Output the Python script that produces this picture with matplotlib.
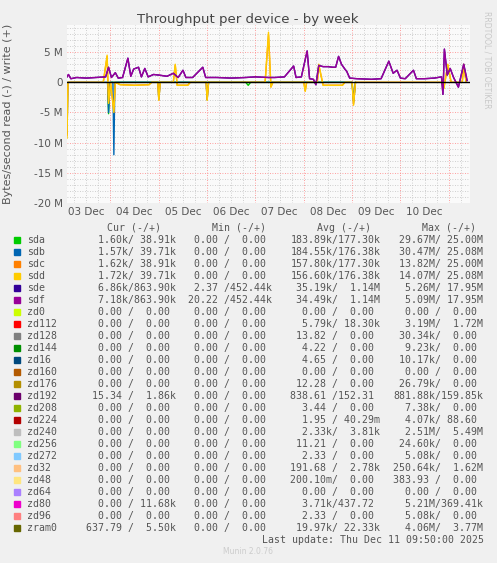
import matplotlib.pyplot as plt
from matplotlib.patches import Rectangle

# time in days since 03 Dec 00:00, values in MB/s (write +, read -)
sdf_pts = [(0.10, 0.9), (0.13, 1.3), (0.18, 0.6), (0.3, 0.8), (0.5, 0.7), (0.7, 0.8), (0.9, 0.9),
           (0.96, 2.5), (1.02, 0.8), (1.10, 1.6), (1.16, 0.7), (1.25, 0.8), (1.36, 4.0), (1.42, 1.0),
           (1.48, 2.2), (1.58, 2.5), (1.64, 0.9), (1.71, 2.3), (1.78, 0.9), (1.89, 1.3), (2.0, 1.2),
           (2.17, 1.0), (2.3, 1.5), (2.4, 0.8), (2.5, 2.0), (2.56, 0.8), (2.7, 0.8), (2.91, 2.5),
           (2.97, 0.8), (3.2, 0.8), (3.5, 0.7), (3.8, 0.8), (4.0, 0.9), (4.27, 0.8), (4.4, 0.8),
           (4.6, 0.9), (4.79, 2.7), (4.84, 0.8), (4.95, 0.9), (5.07, 5.2), (5.12, 0.6), (5.2, 0.5),
           (5.25, -0.4), (5.31, 2.8), (5.4, 2.6), (5.5, 2.6), (5.6, 2.5), (5.66, 2.5), (5.72, 4.3),
           (5.78, 3.0), (5.85, 2.2), (5.89, 1.8), (5.95, 0.7), (6.1, 0.6), (6.4, 0.5), (6.6, 0.6),
           (6.76, 3.5), (6.85, 1.5), (6.93, 2.0), (7.0, 0.7), (7.1, 0.6), (7.27, 2.0), (7.33, 0.6),
           (7.5, 0.6), (7.7, 0.7), (7.85, 0.9), (7.88, -2.0), (7.91, 5.5), (7.97, 1.2), (8.03, 2.3),
           (8.1, 0.8), (8.2, -0.8), (8.31, 3.0), (8.38, 0.3)]
sdd_pts = [(0.08, 0), (0.10, -9.3), (0.12, 0), (0.85, 0), (0.93, 4.5), (0.96, -3.5), (1.0, 0),
           (1.07, -5.0), (1.1, 0), (1.2, -0.4), (1.5, -0.5), (1.8, -0.4), (1.85, 0), (1.98, 0),
           (2.0, -3.0), (2.03, 0), (2.3, 0), (2.34, 3.0), (2.38, -0.5), (2.6, -0.5), (2.65, 0),
           (2.98, 0), (3.0, -3.0), (3.03, 0), (4.2, 0), (4.27, 8.3), (4.32, -0.8), (4.36, 0),
           (5.0, 0), (5.03, -1.5), (5.06, 0), (5.28, 0), (5.31, 3.0), (5.4, -0.5), (5.8, -0.5),
           (5.85, 0), (6.0, 0), (6.03, -3.8), (6.07, 0), (7.85, 0), (7.9, -1.0), (7.98, 3.0),
           (8.05, 0), (8.28, 0), (8.31, 3.0), (8.36, 0)]
sdb_pts = [(0.08, 0), (0.10, -8.5), (0.12, 0), (0.94, 0), (0.96, -5.0), (0.99, 0), (1.05, 0),
           (1.07, -12.0), (1.09, 0), (1.98, 0), (2.0, -2.8), (2.03, 0), (2.98, 0), (3.0, -2.9),
           (3.03, 0), (6.0, 0), (6.03, -3.3), (6.07, 0)]
sda_pts = [(0.94, 0), (0.96, -5.2), (0.99, 0), (3.8, 0), (3.85, -0.5), (3.9, 0), (6.0, 0),
           (6.03, -3.0), (6.07, 0)]

names = ["sda", "sdb", "sdc", "sdd", "sde", "sdf", "zd0", "zd112", "zd128", "zd144", "zd16",
         "zd160", "zd176", "zd192", "zd208", "zd224", "zd240", "zd256", "zd272", "zd32", "zd48",
         "zd64", "zd80", "zd96", "zram0"]
colors = ["#00cc00", "#0066b3", "#ff8000", "#ffcc00", "#330099", "#990099", "#ccff00", "#ff0000",
          "#808080", "#008f00", "#00487d", "#b35a00", "#b38f00", "#6b006b", "#8fb300", "#b30000",
          "#bebebe", "#80ff80", "#80c9ff", "#ffc080", "#ffe680", "#aa80ff", "#ee00cc", "#ff8080",
          "#666600"]
cur = [("1.60k", "38.91k"), ("1.57k", "39.71k"), ("1.62k", "38.91k"), ("1.72k", "39.71k"),
       ("6.86k", "863.90k"), ("7.18k", "863.90k")] + [("0.00 ", "0.00 ")] * 7 + \
      [("15.34 ", "1.86k")] + [("0.00 ", "0.00 ")] * 8 + [("0.00 ", "11.68k"), ("0.00 ", "0.00 "),
                                                          ("637.79 ", "5.50k")]
mins = [("0.00 ", "0.00 ")] * 4 + [("2.37 ", "452.44k"), ("20.22 ", "452.44k")] + \
       [("0.00 ", "0.00 ")] * 19
avgs = [("183.89k", "177.30k"), ("184.55k", "176.38k"), ("157.80k", "177.30k"),
        ("156.60k", "176.38k"), ("35.19k", "1.14M"), ("34.49k", "1.14M"), ("0.00 ", "0.00 "),
        ("5.79k", "18.30k"), ("13.82 ", "0.00 "), ("4.22 ", "0.00 "), ("4.65 ", "0.00 "),
        ("0.00 ", "0.00 "), ("12.28 ", "0.00 "), ("838.61 ", "152.31 "), ("3.44 ", "0.00 "),
        ("1.95 ", "40.29m"), ("2.33k", "3.81k"), ("11.21 ", "0.00 "), ("2.33 ", "0.00 "),
        ("191.68 ", "2.78k"), ("200.10m", "0.00 "), ("0.00 ", "0.00 "), ("3.71k", "437.72 "),
        ("2.33 ", "0.00 "), ("19.97k", "22.33k")]
maxs = [("29.67M", "25.00M"), ("30.47M", "25.08M"), ("13.82M", "25.00M"), ("14.07M", "25.08M"),
        ("5.26M", "17.95M"), ("5.09M", "17.95M"), ("0.00 ", "0.00 "), ("3.19M", "1.72M"),
        ("30.34k", "0.00 "), ("9.23k", "0.00 "), ("10.17k", "0.00 "), ("0.00 ", "0.00 "),
        ("26.79k", "0.00 "), ("881.88k", "159.85k"), ("7.38k", "0.00 "), ("4.07k", "88.60 "),
        ("2.51M", "5.49M"), ("24.60k", "0.00 "), ("5.08k", "0.00 "), ("250.64k", "1.62M"),
        ("383.93 ", "0.00 "), ("0.00 ", "0.00 "), ("5.21M", "369.41k"), ("5.08k", "0.00 "),
        ("4.06M", "3.77M")]
day_labels = ["03 Dec", "04 Dec", "05 Dec", "06 Dec", "07 Dec", "08 Dec", "09 Dec", "10 Dec"]

W, H = 497, 563
fig = plt.figure(figsize=(W / 100, H / 100), dpi=100, facecolor="#f0f0f0")
ax = fig.add_axes([67 / W, 1 - 203 / H, 403 / W, 178 / H], facecolor="#fafafa")

def draw(pts, c, lw=1.0):
    ax.plot([p[0] for p in pts], [p[1] for p in pts], color=c, lw=lw)

draw(sda_pts, colors[0])
draw(sdb_pts, colors[1])
draw([(t, v * 0.95) for t, v in sdd_pts], colors[2])
draw(sdd_pts, colors[3])
draw(sdf_pts, colors[4])
draw(sdf_pts, colors[5])
ax.axhline(0, color="black", lw=1.0)

ax.set_xlim(0.1, 8.44)
ax.set_ylim(-20, 9.5)
ax.set_yticks([-20, -15, -10, -5, 0, 5])
ax.set_yticklabels(["-20 M", "-15 M", "-10 M", "-5 M", "0", "5 M"])
ax.set_xticks([i + 0.5 for i in range(8)])
ax.set_xticklabels(day_labels)
for v in range(-20, 10):
    ax.axhline(v, color="#ff8080" if v % 5 == 0 else "#c0c0c0", lw=0.6, ls=(0, (1, 2)), zorder=0)
for q in range(1, 34):
    d = q * 0.25
    ax.axvline(d, color="#ff8080" if q % 4 == 0 else "#c0c0c0", lw=0.6, ls=(0, (1, 2)), zorder=0)
ax.tick_params(labelsize=7.5, colors="#555555", length=0, pad=3)
for s in ax.spines.values():
    s.set_visible(False)
ax.set_ylabel("Bytes/second read (-) / write (+)", fontsize=8, color="#555555")
ax.yaxis.set_label_coords(-54 / 403, 0.5)

fig.text(248 / W, 1 - 19 / H, "Throughput per device - by week", ha="center", va="center",
         fontsize=9.5, color="#444444")
fig.text(487 / W, 1 - 60 / H, "RRDTOOL / TOBI OETIKER", rotation=270, ha="center", va="center",
         fontsize=5.5, color="#c8c8c8")

mono = dict(family="DejaVu Sans Mono", fontsize=7.1, color="#555555", va="center")
cw = 5.97
for hx, ht in zip([134, 239, 344, 449], ["Cur (-/+)", "Min (-/+)", "Avg (-/+)", "Max (-/+)"]):
    fig.text(hx / W, 1 - 228 / H, ht, ha="center", **mono)
col_end = [176, 272, 380, 483]
for i, n in enumerate(names):
    y = 240 + i * 12
    fig.patches.append(Rectangle((14 / W, 1 - (y + 3) / H), 6 / W, 6 / H, color=colors[i],
                                 transform=fig.transFigure, figure=fig))
    fig.text(27 / W, 1 - y / H, n, ha="left", **mono)
    for col, end in zip([cur, mins, avgs, maxs], col_end):
        a, b = col[i]
        cell = f"{a:>7}/{b:>7}"
        fig.text((end - 15 * cw) / W, 1 - y / H, cell, ha="left", **mono)
fig.text((483 - 37 * cw) / W, 1 - 540 / H, "Last update: Thu Dec 11 09:50:00 2025", ha="left", **mono)
fig.text(248 / W, 1 - 552 / H, "Munin 2.0.76", ha="center", va="center", fontsize=5.5, color="#cccccc")

fig.savefig("out.png", dpi=100, facecolor=fig.get_facecolor())
